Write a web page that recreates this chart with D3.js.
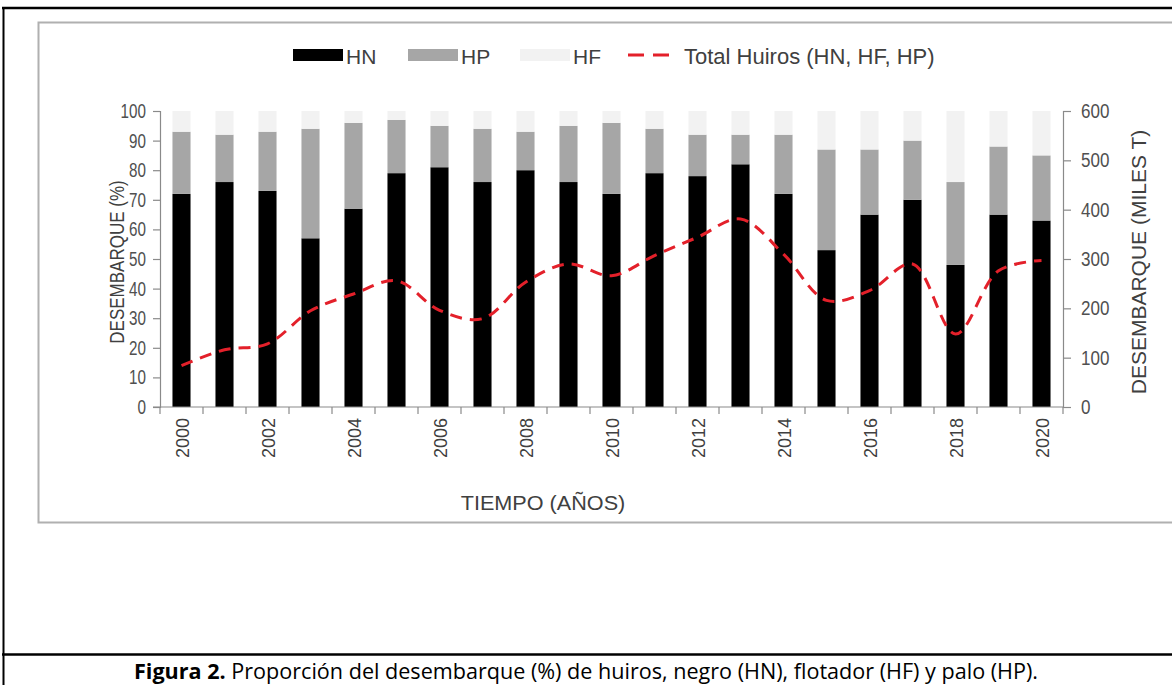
<!DOCTYPE html>
<html>
<head>
<meta charset="utf-8">
<script src="https://cdn.jsdelivr.net/npm/d3@7"></script>
<style>
  body { margin: 0; background: #fff; }
  text { font-family: "Liberation Sans", Arial, sans-serif; }
</style>
</head>
<body>
<svg id="chart"></svg>
<script>
// data
const years = [2000, 2001, 2002, 2003, 2004, 2005, 2006, 2007, 2008, 2009, 2010,
               2011, 2012, 2013, 2014, 2015, 2016, 2017, 2018, 2019, 2020];
const hn = [72, 76, 73, 57, 67, 79, 81, 76, 80, 76, 72, 79, 78, 82, 72, 53, 65, 70, 48, 65, 63];
const hp = [21, 16, 20, 37, 29, 18, 14, 18, 13, 19, 24, 15, 14, 10, 20, 34, 22, 20, 28, 23, 22];
const hf = [7, 8, 7, 6, 4, 3, 5, 6, 7, 5, 4, 6, 8, 8, 8, 13, 13, 10, 24, 12, 15];
const totalHuiros = [84, 116, 128, 195, 229, 256, 196, 179, 253, 290, 266,
                     307, 344, 381, 310, 216, 236, 290, 148, 276, 297];
const leftTicks = [0, 10, 20, 30, 40, 50, 60, 70, 80, 90, 100];
const rightTicks = [0, 100, 200, 300, 400, 500, 600];
const yearLabels = [2000, 2002, 2004, 2006, 2008, 2010, 2012, 2014, 2016, 2018, 2020];
const seriesNames = ['HN', 'HP', 'HF'];
const lineName = 'Total Huiros (HN, HF, HP)';

const table = years.map((y, i) => ({year: y, HN: hn[i], HP: hp[i], HF: hf[i]}));

const W = 1172, H = 685;
const svg = d3.select('#chart').attr('width', W).attr('height', H);

// squeeze text horizontally (the figure uses a narrow face)
function squeeze(sel, f) {
  sel.each(function () {
    const len = this.getComputedTextLength();
    d3.select(this).attr('textLength', (len * f).toFixed(1)).attr('lengthAdjust', 'spacingAndGlyphs');
  });
}

// frame of the figure
svg.append('line').attr('x1', 2).attr('x2', W).attr('y1', 8).attr('y2', 8)
  .attr('stroke', '#000').attr('stroke-width', 2.5);
svg.append('line').attr('x1', 3.5).attr('x2', 3.5).attr('y1', 7).attr('y2', H)
  .attr('stroke', '#000').attr('stroke-width', 2);
svg.append('line').attr('x1', 2).attr('x2', W).attr('y1', 654.5).attr('y2', 654.5)
  .attr('stroke', '#000').attr('stroke-width', 2.5);
// inner chart box
svg.append('path').attr('d', `M${W + 5},22.5 H38.5 V522.5 H${W + 5}`)
  .attr('fill', 'none').attr('stroke', '#b0b0b0').attr('stroke-width', 2);

const plotLeft = 160, plotRight = 1063, plotTop = 111, plotBottom = 407;

const x = d3.scaleBand().domain(years).range([plotLeft, plotRight])
  .paddingInner(0.58).paddingOuter(0.29);
const y = d3.scaleLinear().domain([0, 100]).range([plotBottom, plotTop]);
const y2 = d3.scaleLinear().domain([0, 600]).range([plotBottom, plotTop]);

const color = d3.scaleOrdinal().domain(seriesNames).range(['#000000', '#a6a6a6', '#f2f2f2']);

const stack = d3.stack().keys(seriesNames)(table);

svg.append('g')
  .selectAll('g')
  .data(stack)
  .join('g')
  .attr('fill', d => color(d.key))
  .selectAll('rect')
  .data(d => d)
  .join('rect')
  .attr('x', d => x(d.data.year))
  .attr('y', d => y(d[1]))
  .attr('width', x.bandwidth())
  .attr('height', d => y(d[0]) - y(d[1]));

// axes
const axisColor = '#8a8a8a', tickText = '#505050';

const gl = svg.append('g').attr('transform', `translate(${plotLeft},0)`)
  .call(d3.axisLeft(y).tickValues(leftTicks).tickSize(7).tickPadding(7));
const gr = svg.append('g').attr('transform', `translate(${plotRight},0)`)
  .call(d3.axisRight(y2).tickValues(rightTicks).tickSize(8).tickPadding(10));
[gl, gr].forEach(g => {
  g.select('.domain').attr('stroke', axisColor).attr('stroke-width', 1.2);
  g.selectAll('.tick line').attr('stroke', axisColor).attr('stroke-width', 1.2);
  g.selectAll('.tick text').attr('fill', tickText).style('font-size', '20px');
});
squeeze(gl.selectAll('.tick text'), 0.76);
squeeze(gr.selectAll('.tick text'), 0.85);

// bottom axis: boundaries between categories get tick marks
const half = x.step() / 2;
const centre = d => x(d) + x.bandwidth() / 2;
const bounds = years.map(d => centre(d) - half).concat([centre(years[years.length - 1]) + half]);
const gx = svg.append('g').attr('transform', `translate(0,${plotBottom})`);
gx.append('line').attr('x1', plotLeft - 7).attr('x2', plotRight)
  .attr('stroke', axisColor).attr('stroke-width', 1.2);
gx.selectAll('line.bt')
  .data(bounds)
  .join('line')
  .attr('class', 'bt')
  .attr('x1', d => d).attr('x2', d => d)
  .attr('y1', 0).attr('y2', 7)
  .attr('stroke', axisColor).attr('stroke-width', 1.2);
gx.selectAll('text.yl')
  .data(yearLabels)
  .join('text')
  .attr('class', 'yl')
  .attr('transform', d => `translate(${centre(d) + 7},11) rotate(-90)`)
  .attr('text-anchor', 'end')
  .attr('fill', '#404040')
  .style('font-size', '18px')
  .text(d => d);

// total line (right axis)
const line = d3.line()
  .x((d, i) => centre(years[i]))
  .y(d => y2(d))
  .curve(d3.curveCatmullRom.alpha(0.5));
svg.append('path')
  .datum(totalHuiros)
  .attr('d', line)
  .attr('fill', 'none')
  .attr('stroke', '#e3202a')
  .attr('stroke-width', 3)
  .attr('stroke-dasharray', '12,8');

// axis titles
const titleColor = '#404040';
svg.append('text')
  .attr('transform', `translate(124,${(plotTop + plotBottom) / 2 + 3}) rotate(-90)`)
  .attr('text-anchor', 'middle')
  .attr('fill', titleColor)
  .style('font-size', '20px')
  .text('DESEMBARQUE (%)')
  .call(squeeze, 0.85);
svg.append('text')
  .attr('transform', `translate(1146,${(plotTop + plotBottom) / 2 + 3}) rotate(-90)`)
  .attr('text-anchor', 'middle')
  .attr('fill', titleColor)
  .style('font-size', '21px')
  .text('DESEMBARQUE (MILES T)');
svg.append('text')
  .attr('x', 543).attr('y', 510)
  .attr('text-anchor', 'middle')
  .attr('fill', titleColor)
  .style('font-size', '21px')
  .text('TIEMPO (AÑOS)')
  .call(squeeze, 1.03);

// legend
const legend = svg.append('g').attr('class', 'legend');
const legendX = [293, 408, 520];
seriesNames.forEach((s, i) => {
  legend.append('rect')
    .attr('x', legendX[i]).attr('y', 49)
    .attr('width', 50).attr('height', 12)
    .attr('fill', color(s));
  legend.append('text')
    .attr('x', legendX[i] + 53).attr('y', 63.5)
    .attr('fill', titleColor)
    .style('font-size', '21px')
    .text(s);
});
legend.append('line')
  .attr('x1', 628).attr('x2', 669).attr('y1', 55).attr('y2', 55)
  .attr('stroke', '#e3202a').attr('stroke-width', 3)
  .attr('stroke-dasharray', '16,9');
legend.append('text')
  .attr('x', 684).attr('y', 64)
  .attr('fill', titleColor)
  .style('font-size', '22px')
  .text(lineName);

// caption
const cap = svg.append('text')
  .attr('x', W / 2).attr('y', 679)
  .attr('text-anchor', 'middle')
  .style('font-family', '"Open Sans", "Noto Sans", sans-serif')
  .style('font-size', '19px')
  .attr('fill', '#000');
cap.append('tspan').style('font-weight', 'bold').text('Figura 2.');
cap.append('tspan').text(' Proporción del desembarque (%) de huiros, negro (HN), flotador (HF) y palo (HP).');
// fit caption to the width it has in the figure
const capLen = cap.node().getComputedTextLength();
cap.style('font-size', (19 * 904 / capLen).toFixed(2) + 'px');
</script>
</body>
</html>
